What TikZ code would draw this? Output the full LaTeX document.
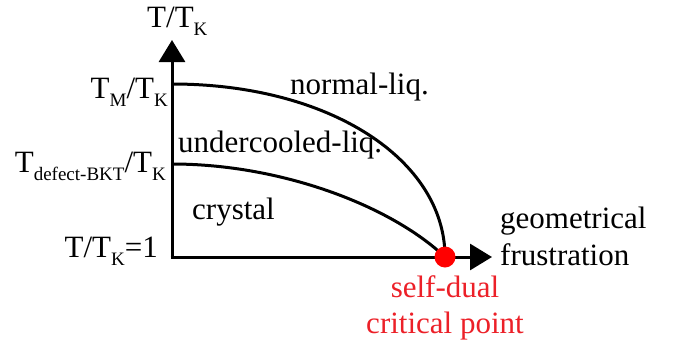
\documentclass[tikz,border=0pt]{standalone}
\usepackage{fontspec}
\setmainfont{Liberation Serif}
\usetikzlibrary{arrows.meta}
\definecolor{dotred}{RGB}{255,0,0}
\definecolor{txtred}{RGB}{236,32,40}
\newcommand\lsb[1]{\raisebox{-8pt}{\fontsize{19}{19}\selectfont #1}}
\begin{document}
\begin{tikzpicture}[x=1pt,y=-1pt,
  lbl/.style={inner sep=0pt,font=\fontsize{31}{36}\selectfont},
  axis/.style={line width=3pt,-{Triangle[width=26pt,length=22pt]}},
  phase/.style={line width=3pt}]
\useasboundingbox (0,0) rectangle (673,346);
\coordinate (O) at (172,257);
\coordinate (ytip) at (172,40);
\coordinate (xtip) at (492,257);
\coordinate (tm) at (172,84);
\coordinate (td) at (172,164);
\coordinate (cp) at (445,257);
\draw[axis] ([xshift=-1.5pt]O) -- (xtip);
\draw[axis] ([yshift=1.5pt]O) -- (ytip);
\draw[phase] (tm) .. controls (330,84) and (445,160) .. (cp);
\draw[phase] (td) .. controls (280,164) and (390,205) .. (cp);
\node[circle,fill=dotred,inner sep=0pt,minimum size=21pt] (dot) at (cp) {};
\node[lbl,anchor=base west] (ylab) at (147,27) {T/T\lsb{K}};
\node[lbl,anchor=base east] (tmlab) at (168,98) {T\lsb{M}/T\lsb{K}};
\node[lbl,anchor=base east] (tdlab) at (166,172) {T\lsb{defect-BKT}/T\lsb{K}};
\node[lbl,anchor=base east] (onelab) at (158,257) {T/T\lsb{K}=1};
\node[lbl,anchor=base west] (nl) at (290,94) {normal-liq.};
\node[lbl,anchor=base west] (ul) at (178,152) {undercooled-liq.};
\node[lbl,anchor=base west] (cr) at (192,219) {crystal};
\node[lbl,anchor=base west] (geo) at (500,228) {geometrical};
\node[lbl,anchor=base west] (fr) at (500,265) {frustration};
\node[lbl,anchor=base,text=txtred] (sd) at (445,297) {self-dual};
\node[lbl,anchor=base,text=txtred] (cpl) at (445,333) {critical point};
\end{tikzpicture}
\end{document}
